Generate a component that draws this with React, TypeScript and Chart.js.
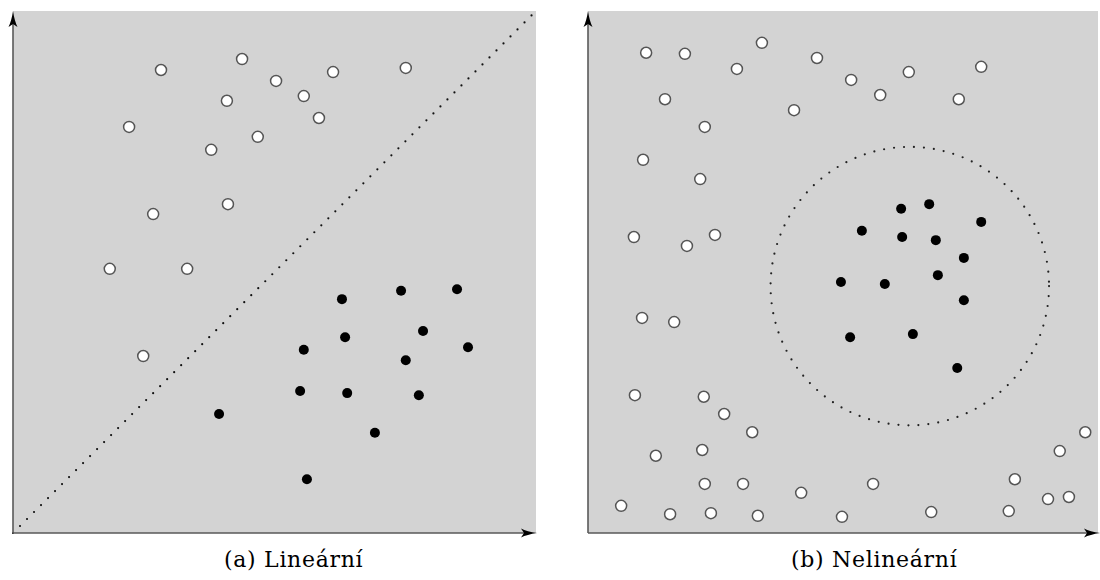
import React, { useEffect, useRef } from "react";
import { Chart, registerables } from "chart.js";

Chart.register(...registerables);

// ---- Data (panel a: linear) ----
const linWhiteX = [28.3, 43.8, 50.3, 61.2, 75.1, 40.9, 55.6, 22.2, 58.5, 46.8, 37.9, 26.8, 41.1, 18.5, 33.3, 24.9];
const linWhiteY = [88.7, 90.8, 86.6, 88.3, 89.1, 82.8, 83.7, 77.8, 79.5, 75.9, 73.4, 61.1, 63.0, 50.6, 50.6, 33.9];
const linBlackX = [62.9, 74.2, 84.9, 78.4, 63.5, 55.6, 87.0, 75.1, 54.9, 63.9, 77.6, 39.4, 69.2, 56.2];
const linBlackY = [44.8, 46.4, 46.7, 38.7, 37.5, 35.1, 35.6, 33.1, 27.2, 26.8, 26.4, 22.8, 19.2, 10.3];
const linBoundaryX = [0, 100];
const linBoundaryY = [0, 100];

// ---- Data (panel b: non-linear) ----
const nonWhiteX = [11.4, 19.0, 34.1, 44.9, 29.2, 51.6, 62.9, 77.1, 15.1, 57.3, 72.7, 40.4, 22.9, 10.8, 22.0, 9.0, 19.4, 24.9, 10.6, 16.9, 9.2, 22.7, 26.7, 32.2, 13.3, 22.4, 97.5, 92.5, 83.7, 22.9, 30.4, 55.9, 41.8, 6.5, 16.1, 24.1, 33.3, 49.8, 67.3, 82.5, 90.2, 94.3];
const nonWhiteY = [92.0, 91.8, 93.9, 91.0, 88.9, 86.8, 88.3, 89.3, 83.1, 83.9, 83.1, 81.0, 77.8, 71.5, 67.8, 56.7, 55.0, 57.1, 41.2, 40.4, 26.4, 26.1, 22.8, 19.3, 14.8, 15.9, 19.3, 15.7, 10.3, 9.4, 9.4, 9.4, 7.7, 5.2, 3.6, 3.8, 3.3, 3.1, 4.0, 4.2, 6.5, 6.9];
const nonBlackX = [61.4, 66.9, 77.1, 53.7, 61.6, 68.2, 73.7, 49.6, 58.2, 68.6, 73.7, 51.4, 63.7, 72.4];
const nonBlackY = [62.1, 63.0, 59.6, 57.9, 56.7, 56.1, 52.7, 48.1, 47.7, 49.4, 44.6, 37.5, 38.1, 31.6];
const circleCenter = [63.1, 47.3];
const circleRadiusX = 27.3;

const captions = ["(a) Lineární", "(b) Nelineární"];

const zip = (xs: number[], ys: number[]) => xs.map((x, i) => ({ x, y: ys[i] }));

const panelPlugin = {
  id: "panel",
  beforeDraw(chart: any) {
    const { ctx, chartArea: a } = chart;
    ctx.save();
    ctx.fillStyle = "#d3d3d3";
    ctx.fillRect(a.left, a.top, a.right - a.left, a.bottom - a.top);
    ctx.restore();
  },
  afterDatasetsDraw(chart: any) {
    const { ctx, chartArea: a } = chart;
    const circ = chart.options.plugins.panel?.circle;
    if (circ) {
      const xs = chart.scales.x, ys = chart.scales.y;
      const cx = xs.getPixelForValue(circ.c[0]);
      const cy = ys.getPixelForValue(circ.c[1]);
      const r = xs.getPixelForValue(circ.c[0] + circ.r) - cx;
      ctx.save();
      ctx.strokeStyle = "#222";
      ctx.lineWidth = 2.2;
      ctx.lineCap = "round";
      ctx.setLineDash([0, 10]);
      ctx.beginPath();
      ctx.arc(cx, cy, r, 0, Math.PI * 2);
      ctx.stroke();
      ctx.restore();
    }
    const tipX = chart.options.plugins.panel?.tipX ?? a.right + 1;
    ctx.save();
    ctx.strokeStyle = "#5a5a5a";
    ctx.lineWidth = 1.6;
    ctx.beginPath();
    ctx.moveTo(a.left, a.bottom);
    ctx.lineTo(a.left, a.top + 6);
    ctx.moveTo(a.left, a.bottom);
    ctx.lineTo(tipX - 6, a.bottom);
    ctx.stroke();
    ctx.fillStyle = "#000";
    // up arrow
    const ux = a.left, uy = a.top;
    ctx.beginPath();
    ctx.moveTo(ux, uy);
    ctx.quadraticCurveTo(ux + 1.5, uy + 10, ux + 4.5, uy + 16);
    ctx.lineTo(ux, uy + 13);
    ctx.lineTo(ux - 4.5, uy + 16);
    ctx.quadraticCurveTo(ux - 1.5, uy + 10, ux, uy);
    ctx.fill();
    // right arrow
    const rx = tipX, ry = a.bottom;
    ctx.beginPath();
    ctx.moveTo(rx, ry);
    ctx.quadraticCurveTo(rx - 10, ry - 1.5, rx - 16, ry - 4.5);
    ctx.lineTo(rx - 13, ry);
    ctx.lineTo(rx - 16, ry + 4.5);
    ctx.quadraticCurveTo(rx - 10, ry + 1.5, rx, ry);
    ctx.fill();
    ctx.restore();
  },
};

const whiteStyle = {
  backgroundColor: "#ffffff",
  borderColor: "#555555",
  borderWidth: 1.5,
  pointRadius: 5.5,
  clip: false as any,
};
const blackStyle = {
  backgroundColor: "#000000",
  borderColor: "#000000",
  borderWidth: 0,
  pointRadius: 5,
  clip: false as any,
};

function Panel(props: {
  datasets: any[];
  padding: any;
  width: number;
  height: number;
  left: number;
  circle?: any;
  tipX?: number;
}) {
  const ref = useRef<HTMLCanvasElement>(null);
  useEffect(() => {
    const chart = new Chart(ref.current!, {
      type: "scatter",
      data: { datasets: props.datasets },
      plugins: [panelPlugin],
      options: {
        animation: false,
        responsive: false,
        devicePixelRatio: 1,
        layout: { padding: props.padding, autoPadding: false },
        scales: {
          x: { type: "linear", min: 0, max: 100, display: false },
          y: { type: "linear", min: 0, max: 100, display: false },
        },
        plugins: {
          legend: { display: false },
          tooltip: { enabled: false },
          panel: { circle: props.circle, tipX: props.tipX },
        } as any,
      },
    });
    return () => chart.destroy();
  }, []);
  return (
    <canvas
      ref={ref}
      width={props.width}
      height={props.height}
      style={{ position: "absolute", left: props.left, top: 0, width: props.width, height: props.height }}
    />
  );
}

export default function App() {
  const leftSets = [
    {
      type: "line",
      data: zip(linBoundaryX, linBoundaryY),
      borderColor: "#111",
      borderWidth: 2.2,
      borderDash: [0, 9.9],
      borderCapStyle: "round",
      pointRadius: 0,
      showLine: true,
      fill: false,
      clip: false,
    },
    { data: zip(linWhiteX, linWhiteY), ...whiteStyle },
    { data: zip(linBlackX, linBlackY), ...blackStyle },
  ];
  const rightSets = [
    { data: zip(nonWhiteX, nonWhiteY), ...whiteStyle },
    { data: zip(nonBlackX, nonBlackY), ...blackStyle },
  ];
  const capStyle: React.CSSProperties = {
    position: "absolute",
    top: 549,
    fontFamily: "'DejaVu Serif', serif",
    fontSize: 22,
    letterSpacing: "0.7px",
    lineHeight: "22px",
    whiteSpace: "nowrap",
    color: "#000",
  };
  return (
    <div style={{ position: "absolute", left: 0, top: 0, width: 1100, height: 580, background: "#fff", overflow: "hidden" }}>
      <Panel
        datasets={leftSets}
        width={550}
        height={545}
        left={0}
        padding={{ left: 13, top: 11, right: 14, bottom: 12 }}
        tipX={537}
      />
      <Panel
        datasets={rightSets}
        width={525}
        height={545}
        left={575}
        padding={{ left: 13, top: 11, right: 2, bottom: 12 }}
        circle={{ c: circleCenter, r: circleRadiusX }}
        tipX={525}
      />
      <div style={{ ...capStyle, left: 224 }}>{captions[0]}</div>
      <div style={{ ...capStyle, left: 791 }}>{captions[1]}</div>
    </div>
  );
}
